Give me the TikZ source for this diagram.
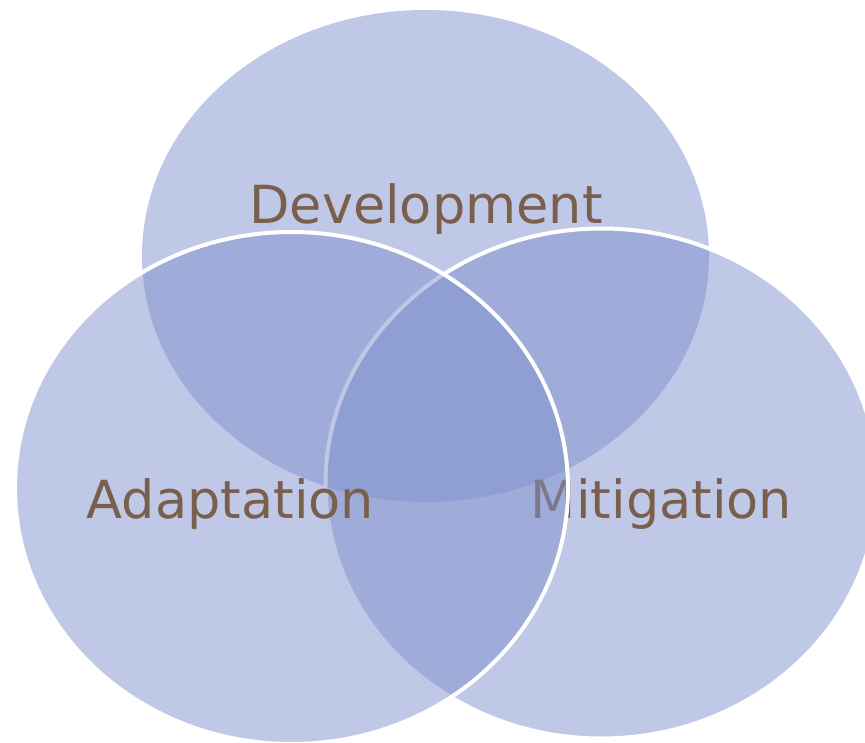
\documentclass[tikz,border=0pt]{standalone}
\usepackage{fontspec}
\setmainfont{DejaVu Sans}
\definecolor{vennblue}{RGB}{128,145,205}
\definecolor{venntext}{RGB}{122,96,76}
\begin{document}
\begin{tikzpicture}[x=1pt,y=-1pt,
  venn/.style={fill=vennblue, fill opacity=0.5},
  vennline/.style={draw=white, line width=4pt},
  lbl/.style={anchor=base, text=venntext, inner sep=0pt, font=\fontsize{52.5}{60}\selectfont}]
\useasboundingbox (0,0) rectangle (865,743);
% top
\fill[venn] (425.5,256) ellipse [x radius=283.5, y radius=246];
\node[lbl] (dev) at (426,224) {Development};
% right
\path[venn, vennline] (601.5,483.5) ellipse [x radius=276, y radius=255];
\node[lbl] (mit) at (661.5,518) {Mitigation};
% left
\path[venn, vennline] (291.5,488) ellipse [x radius=276.5, y radius=256];
\node[lbl] (ada) at (230.5,518) {Adaptation};
\end{tikzpicture}
\end{document}
